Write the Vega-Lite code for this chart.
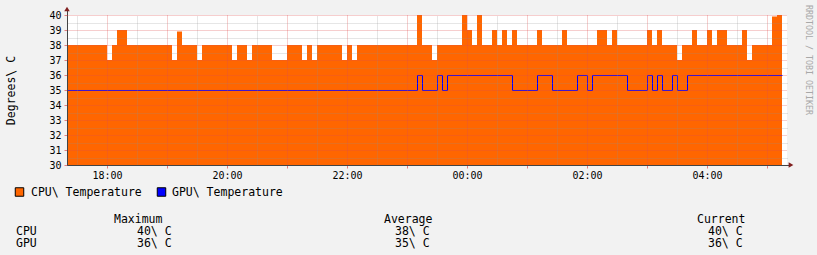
{
  "$schema": "https://vega.github.io/schema/vega-lite/v6.json",
  "width": 720,
  "height": 150,
  "autosize": {"type": "none"},
  "padding": {"left": 67, "top": 15, "right": 30, "bottom": 90},
  "background": "#f2f2f2",
  "config": {
    "view": {"fill": "#ffffff", "stroke": null}
  },
  "datasets": {
    "cpu": [
      {"minute": 1040, "v": 38}, {"minute": 1080, "v": 37}, {"minute": 1085, "v": 38}, {"minute": 1090, "v": 39},
      {"minute": 1100, "v": 38}, {"minute": 1145, "v": 37}, {"minute": 1150, "v": 38.9}, {"minute": 1155, "v": 38},
      {"minute": 1170, "v": 37}, {"minute": 1175, "v": 38}, {"minute": 1205, "v": 37}, {"minute": 1210, "v": 38},
      {"minute": 1220, "v": 37}, {"minute": 1225, "v": 38}, {"minute": 1245, "v": 37}, {"minute": 1260, "v": 38},
      {"minute": 1275, "v": 37}, {"minute": 1280, "v": 38}, {"minute": 1285, "v": 37}, {"minute": 1290, "v": 38},
      {"minute": 1315, "v": 37}, {"minute": 1320, "v": 38}, {"minute": 1325, "v": 37}, {"minute": 1330, "v": 38},
      {"minute": 1390, "v": 40}, {"minute": 1395, "v": 38}, {"minute": 1405, "v": 37}, {"minute": 1410, "v": 38},
      {"minute": 1435, "v": 40}, {"minute": 1440, "v": 39}, {"minute": 1445, "v": 38}, {"minute": 1450, "v": 40},
      {"minute": 1455, "v": 38}, {"minute": 1465, "v": 39}, {"minute": 1470, "v": 38}, {"minute": 1475, "v": 39},
      {"minute": 1480, "v": 38}, {"minute": 1485, "v": 39}, {"minute": 1490, "v": 38}, {"minute": 1510, "v": 39},
      {"minute": 1515, "v": 38}, {"minute": 1535, "v": 39}, {"minute": 1540, "v": 38}, {"minute": 1570, "v": 39},
      {"minute": 1580, "v": 38}, {"minute": 1585, "v": 39}, {"minute": 1590, "v": 38}, {"minute": 1620, "v": 39},
      {"minute": 1625, "v": 38}, {"minute": 1630, "v": 39}, {"minute": 1635, "v": 38}, {"minute": 1650, "v": 37},
      {"minute": 1655, "v": 38}, {"minute": 1665, "v": 39}, {"minute": 1670, "v": 38}, {"minute": 1680, "v": 39},
      {"minute": 1685, "v": 38}, {"minute": 1690, "v": 39}, {"minute": 1700, "v": 38}, {"minute": 1715, "v": 39},
      {"minute": 1720, "v": 37}, {"minute": 1725, "v": 38}, {"minute": 1745, "v": 39.9}, {"minute": 1750, "v": 40},
      {"minute": 1755, "v": 40}
    ],
    "gpu": [
      {"minute": 1040, "v": 35}, {"minute": 1390, "v": 36}, {"minute": 1395, "v": 35}, {"minute": 1410, "v": 36},
      {"minute": 1415, "v": 35}, {"minute": 1420, "v": 36}, {"minute": 1485, "v": 35}, {"minute": 1510, "v": 36},
      {"minute": 1525, "v": 35}, {"minute": 1550, "v": 36}, {"minute": 1560, "v": 35}, {"minute": 1565, "v": 36},
      {"minute": 1600, "v": 35}, {"minute": 1620, "v": 36}, {"minute": 1625, "v": 35}, {"minute": 1630, "v": 36},
      {"minute": 1635, "v": 35}, {"minute": 1645, "v": 36}, {"minute": 1650, "v": 35}, {"minute": 1660, "v": 36},
      {"minute": 1755, "v": 36}
    ],
    "notes": [
      {"kind": "sq", "slot": 1, "line": 1, "series": "CPU\\ Temperature"},
      {"kind": "sq", "slot": 5, "line": 1, "series": "GPU\\ Temperature"},
      {"kind": "text", "slot": 2, "line": 1, "txt": "CPU\\ Temperature"},
      {"kind": "text", "slot": 6, "line": 1, "txt": "GPU\\ Temperature"},
      {"kind": "text", "slot": 0, "line": 3, "txt": "CPU"},
      {"kind": "text", "slot": 0, "line": 4, "txt": "GPU"},
      {"kind": "text", "slot": 3, "line": 2, "txt": "Maximum"},
      {"kind": "text", "slot": 4, "line": 3, "txt": "40\\ C"},
      {"kind": "text", "slot": 4, "line": 4, "txt": "36\\ C"},
      {"kind": "text", "slot": 7, "line": 2, "txt": "Average"},
      {"kind": "text", "slot": 8, "line": 3, "txt": "38\\ C"},
      {"kind": "text", "slot": 8, "line": 4, "txt": "35\\ C"},
      {"kind": "text", "slot": 9, "line": 2, "txt": "Current"},
      {"kind": "text", "slot": 10, "line": 3, "txt": "40\\ C"},
      {"kind": "text", "slot": 10, "line": 4, "txt": "36\\ C"},
      {"kind": "wm", "slot": 11, "line": 0, "txt": "RRDTOOL / TOBI OETIKER"}
    ]
  },
  "layer": [
    {
      "data": {"name": "cpu"},
      "mark": {"type": "area", "interpolate": "step-after", "color": "#ff6600"},
      "encoding": {
        "x": {
          "field": "minute", "type": "quantitative",
          "scale": {"domain": [1040, 1760], "nice": false, "zero": false},
          "axis": {
            "title": null,
            "values": [1080, 1140, 1200, 1260, 1320, 1380, 1440, 1500, 1560, 1620, 1680, 1740],
            "labelExpr": "datum.value % 120 === 0 ? (floor(datum.value / 60) % 24 < 10 ? '0' : '') + (floor(datum.value / 60) % 24) + ':00' : ''",
            "labelFont": "DejaVu Sans Mono",
            "labelFontSize": 10,
            "labelColor": "#000000",
            "labelPadding": 2,
            "labelOverlap": false,
            "labelFlush": false,
            "tickSize": 3,
            "tickColor": "rgba(222,79,79,0.7)",
            "domainColor": "#444444",
            "grid": true,
            "gridDash": [1, 1],
            "gridColor": "rgba(222,79,79,0.55)",
            "zindex": 1
          }
        },
        "y": {
          "field": "v", "type": "quantitative",
          "scale": {"domain": [30, 40], "nice": false, "zero": false},
          "axis": {
            "title": "Degrees\\ C",
            "titleFont": "DejaVu Sans Mono",
            "titleFontSize": 11.5,
            "titleFontWeight": "normal",
            "titleColor": "#000000",
            "titleX": -56,
            "titleY": 75,
            "titleAngle": -90,
            "titleAlign": "center",
            "titleBaseline": "middle",
            "values": [30, 31, 32, 33, 34, 35, 36, 37, 38, 39, 40],
            "labelOverlap": false,
            "labelFont": "DejaVu Sans Mono",
            "labelFontSize": 10,
            "labelColor": "#000000",
            "labelPadding": 3,
            "tickSize": 3,
            "tickColor": "rgba(222,79,79,0.7)",
            "domainColor": "#444444",
            "grid": true,
            "gridDash": [1, 1],
            "gridColor": "rgba(222,79,79,0.55)",
            "zindex": 1
          }
        },
        "y2": {"datum": 30}
      }
    },
    {
      "data": {"name": "gpu"},
      "mark": {"type": "line", "interpolate": "step-after", "color": "#0000ff", "strokeWidth": 1},
      "encoding": {
        "x": {
          "field": "minute", "type": "quantitative",
          "scale": {"domain": [1039.5, 1759.5], "nice": false, "zero": false},
          "axis": null
        },
        "y": {
          "field": "v", "type": "quantitative",
          "scale": {"domain": [30.0333, 40.0333], "nice": false, "zero": false},
          "axis": null
        }
      }
    },
    {
      "data": {"values": [{}]},
      "mark": {"type": "rule", "color": "#444444", "strokeWidth": 1},
      "encoding": {
        "x": {"datum": 1040, "type": "quantitative", "scale": {"domain": [1039.5, 1759.5], "nice": false, "zero": false}, "axis": null},
        "y": {"datum": 30, "type": "quantitative", "scale": {"domain": [30.0333, 40.0333], "nice": false, "zero": false}, "axis": null},
        "y2": {"datum": 40.35}
      }
    },
    {
      "data": {"values": [{}]},
      "mark": {"type": "rule", "color": "#444444", "strokeWidth": 1},
      "encoding": {
        "x": {"datum": 1040, "type": "quantitative", "scale": {"domain": [1039.5, 1759.5], "nice": false, "zero": false}, "axis": null},
        "x2": {"datum": 1763},
        "y": {"datum": 30, "type": "quantitative", "scale": {"domain": [30.0333, 40.0333], "nice": false, "zero": false}, "axis": null}
      }
    },
    {
      "data": {"values": [{}]},
      "mark": {"type": "point", "shape": "triangle-up", "filled": true, "color": "#801f1f", "size": 30, "opacity": 1},
      "encoding": {
        "x": {
          "datum": 1040, "type": "quantitative",
          "scale": {"domain": [1040, 1760], "nice": false, "zero": false},
          "axis": {
            "orient": "top", "title": null,
            "values": [1050, 1110, 1170, 1230, 1290, 1350, 1410, 1470, 1530, 1590, 1650, 1710],
            "labels": false, "ticks": false, "domain": false,
            "grid": true, "gridDash": [1, 1], "gridColor": "rgba(143,143,143,0.45)",
            "zindex": 1
          }
        },
        "y": {
          "datum": 40.4, "type": "quantitative",
          "scale": {"domain": [30, 40], "nice": false, "zero": false},
          "axis": {
            "orient": "right", "title": null,
            "values": [30.5, 31.5, 32.5, 33.5, 34.5, 35.5, 36.5, 37.5, 38.5, 39.5],
            "labels": false, "ticks": false, "domain": false,
            "grid": true, "gridDash": [1, 1], "gridColor": "rgba(143,143,143,0.45)",
            "zindex": 1
          }
        }
      }
    },
    {
      "data": {"values": [{}]},
      "mark": {"type": "point", "shape": "triangle-right", "filled": true, "color": "#801f1f", "size": 30, "opacity": 1},
      "encoding": {
        "x": {"datum": 1764, "type": "quantitative", "scale": {"domain": [1040, 1760], "nice": false, "zero": false}, "axis": null},
        "y": {"datum": 30, "type": "quantitative", "scale": {"domain": [30, 40], "nice": false, "zero": false}, "axis": null}
      }
    },
    {
      "data": {"name": "notes"},
      "transform": [{"filter": "datum.kind === 'sq'"}],
      "mark": {"type": "point", "shape": "square", "filled": true, "size": 72, "stroke": "#000000", "strokeWidth": 1, "opacity": 1},
      "encoding": {
        "x": {
          "field": "slot", "type": "quantitative",
          "scale": {"domain": [0, 1, 2, 3, 4, 5, 6, 7, 8, 9, 10, 11], "range": [-51, -47.5, -36, 47, 70, 94.5, 105, 317, 328, 630, 641, 741], "zero": false, "nice": false},
          "axis": null
        },
        "y": {
          "field": "line", "type": "quantitative",
          "scale": {"domain": [0, 1, 2, 3, 4], "range": [-10, 177, 204.5, 217, 228.5], "zero": false, "nice": false},
          "axis": null
        },
        "fill": {"field": "series", "type": "nominal", "scale": {"domain": ["CPU\\ Temperature", "GPU\\ Temperature"], "range": ["#ff6600", "#0000ff"]}, "legend": null}
      }
    },
    {
      "data": {"name": "notes"},
      "transform": [{"filter": "datum.kind === 'text'"}],
      "mark": {"type": "text", "align": "left", "baseline": "middle", "font": "DejaVu Sans Mono", "fontSize": 11.5, "color": "#000000"},
      "encoding": {
        "x": {
          "field": "slot", "type": "quantitative",
          "scale": {"domain": [0, 1, 2, 3, 4, 5, 6, 7, 8, 9, 10, 11], "range": [-51, -47.5, -36, 47, 70, 94.5, 105, 317, 328, 630, 641, 741], "zero": false, "nice": false},
          "axis": null
        },
        "y": {
          "field": "line", "type": "quantitative",
          "scale": {"domain": [0, 1, 2, 3, 4], "range": [-10, 177.5, 204.5, 217, 228.5], "zero": false, "nice": false},
          "axis": null
        },
        "text": {"field": "txt"}
      }
    },
    {
      "data": {"name": "notes"},
      "transform": [{"filter": "datum.kind === 'wm'"}],
      "mark": {"type": "text", "align": "left", "baseline": "middle", "angle": 90, "font": "DejaVu Sans Mono", "fontSize": 8.3, "color": "#a8a8a8"},
      "encoding": {
        "x": {
          "field": "slot", "type": "quantitative",
          "scale": {"domain": [0, 1, 2, 3, 4, 5, 6, 7, 8, 9, 10, 11], "range": [-51, -47.5, -36, 47, 70, 94.5, 105, 317, 328, 630, 641, 741], "zero": false, "nice": false},
          "axis": null
        },
        "y": {
          "field": "line", "type": "quantitative",
          "scale": {"domain": [0, 1, 2, 3, 4], "range": [-10, 177.5, 204.5, 217, 228.5], "zero": false, "nice": false},
          "axis": null
        },
        "text": {"field": "txt"}
      }
    }
  ],
  "resolve": {"scale": {"x": "independent", "y": "independent", "fill": "independent"}, "axis": {"x": "independent", "y": "independent"}}
}
